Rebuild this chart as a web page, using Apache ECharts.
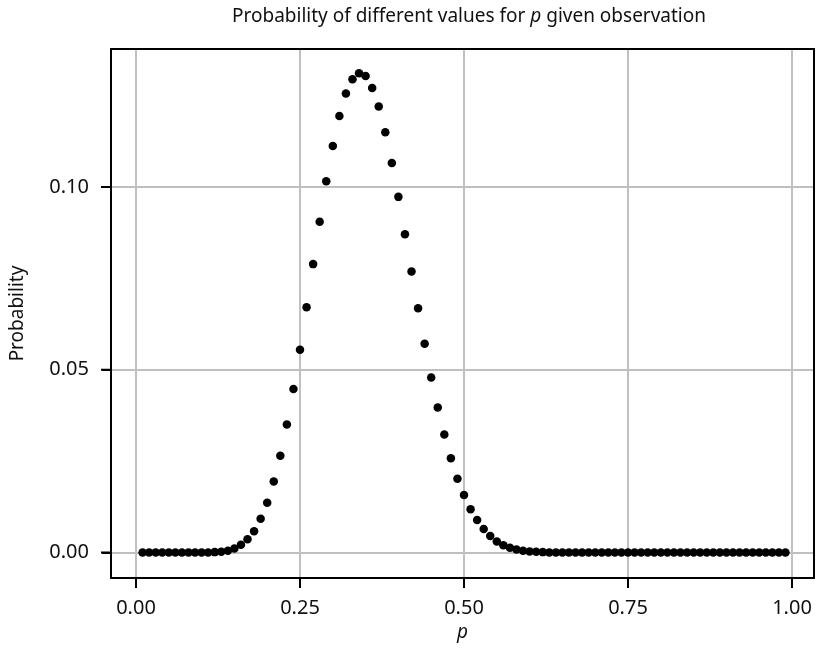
<!DOCTYPE html>
<html>
<head>
<meta charset="utf-8">
<script src="https://cdn.jsdelivr.net/npm/echarts@6/dist/echarts.min.js"></script>
<style>html,body{margin:0;padding:0;background:#fff;}#c{width:816px;height:649px;}</style>
</head>
<body>
<div id="c"></div>
<script>
const titleText = 'Probability of different values for ';
const xName = 'p';
const yName = 'Probability';
const pValues = [0.01,0.02,0.03,0.04,0.05,0.06,0.07,0.08,0.09,0.10,
0.11,0.12,0.13,0.14,0.15,0.16,0.17,0.18,0.19,0.20,
0.21,0.22,0.23,0.24,0.25,0.26,0.27,0.28,0.29,0.30,
0.31,0.32,0.33,0.34,0.35,0.36,0.37,0.38,0.39,0.40,
0.41,0.42,0.43,0.44,0.45,0.46,0.47,0.48,0.49,0.50,
0.51,0.52,0.53,0.54,0.55,0.56,0.57,0.58,0.59,0.60,
0.61,0.62,0.63,0.64,0.65,0.66,0.67,0.68,0.69,0.70,
0.71,0.72,0.73,0.74,0.75,0.76,0.77,0.78,0.79,0.80,
0.81,0.82,0.83,0.84,0.85,0.86,0.87,0.88,0.89,0.90,
0.91,0.92,0.93,0.94,0.95,0.96,0.97,0.98,0.99];
const probValues = [0,0,0,0,0,0,0,0,0,0,
0,0.0001,0.0002,0.0005,0.0011,0.0021,0.0036,0.0058,0.0092,0.0136,
0.0194,0.0265,0.0350,0.0447,0.0555,0.0671,0.0789,0.0905,0.1016,0.1112,
0.1194,0.1256,0.1295,0.1311,0.1304,0.1271,0.1220,0.1150,0.1066,0.0973,
0.0871,0.0769,0.0668,0.0571,0.0479,0.0397,0.0323,0.0258,0.0202,0.0157,
0.0118,0.0089,0.0064,0.0045,0.0030,0.0020,0.0013,0.0008,0.0005,0.0003,
0.0002,0.0001,0,0,0,0,0,0,0,0,
0,0,0,0,0,0,0,0,0,0,
0,0,0,0,0,0,0,0,0,0,
0,0,0,0,0,0,0,0,0];
const xTicks = [0, 0.25, 0.5, 0.75, 1.0];
const yTicks = [0, 0.05, 0.10];

const FONT = 'Noto Sans';
const X_MIN = -0.0381, X_MAX = 1.0335, Y_MIN = -0.00698, Y_MAX = 0.13776;
const borderLine = { show: true, onZero: false, lineStyle: { color: '#000', width: 2 } };
const chart = echarts.init(document.getElementById('c'), null, {renderer: 'canvas'});
chart.setOption({
  animation: false,
  title: {
    text: titleText + '{i|p} given observation',
    left: 464, top: 2,
    textAlign: 'center',
    textStyle: {
      fontFamily: FONT, fontSize: 19, fontWeight: 'normal', color: '#111',
      rich: { i: { fontFamily: FONT, fontSize: 19, fontStyle: 'italic', color: '#111' } }
    }
  },
  grid: { left: 111, right: 2, top: 49, bottom: 71 },
  xAxis: [{
    type: 'value', position: 'bottom',
    min: X_MIN, max: X_MAX,
    name: xName, nameLocation: 'middle', nameGap: 44,
    nameTextStyle: { fontFamily: FONT, fontSize: 19, fontStyle: 'italic', color: '#111' },
    axisLine: borderLine,
    axisTick: { show: true, customValues: xTicks, length: 10, lineStyle: { color: '#000', width: 2 } },
    axisLabel: { customValues: xTicks, margin: 20, fontFamily: FONT, fontSize: 20, color: '#111',
      formatter: v => v.toFixed(2) },
    splitLine: { show: true, lineStyle: { color: '#c0c0c0', width: 2 } }
  }, {
    type: 'value', position: 'top',
    min: X_MIN, max: X_MAX,
    axisLine: borderLine,
    axisTick: { show: false }, axisLabel: { show: false }, splitLine: { show: false }
  }],
  yAxis: [{
    type: 'value', position: 'left',
    min: Y_MIN, max: Y_MAX,
    name: yName, nameLocation: 'middle', nameGap: 84,
    nameTextStyle: { fontFamily: FONT, fontSize: 19, color: '#111' },
    axisLine: borderLine,
    axisTick: { show: true, customValues: yTicks, length: 9, lineStyle: { color: '#000', width: 2 } },
    axisLabel: { customValues: yTicks, margin: 22, fontFamily: FONT, fontSize: 20, color: '#111',
      formatter: v => v.toFixed(2) },
    splitLine: { show: true, lineStyle: { color: '#c0c0c0', width: 2 } }
  }, {
    type: 'value', position: 'right',
    min: Y_MIN, max: Y_MAX,
    axisLine: borderLine,
    axisTick: { show: false }, axisLabel: { show: false }, splitLine: { show: false }
  }],
  series: [{
    type: 'scatter',
    xAxisIndex: 0, yAxisIndex: 0,
    data: pValues.map((p, i) => [p, probValues[i]]),
    symbol: 'circle',
    symbolSize: 8.5,
    itemStyle: { color: '#000', opacity: 1 },
    clip: false
  }, {
    type: 'scatter', silent: true,
    xAxisIndex: 0, yAxisIndex: 0,
    data: xTicks.map(v => [v, Y_MIN]),
    symbol: 'rect', symbolSize: [2, 10], symbolOffset: [0, 5],
    itemStyle: { color: '#000', opacity: 1 },
    clip: false, z: 10
  }, {
    type: 'scatter', silent: true,
    xAxisIndex: 0, yAxisIndex: 0,
    data: yTicks.map(v => [X_MIN, v]),
    symbol: 'rect', symbolSize: [10, 2], symbolOffset: [-5, 0],
    itemStyle: { color: '#000', opacity: 1 },
    clip: false, z: 10
  }]
});
</script>
</body>
</html>
